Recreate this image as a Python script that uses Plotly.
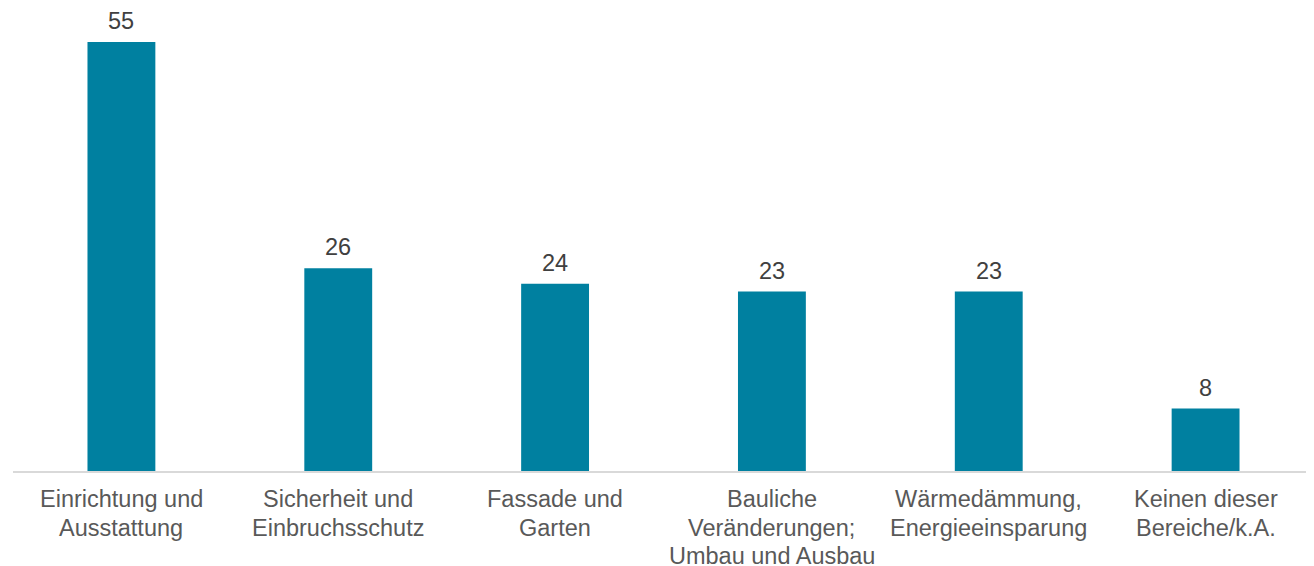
import plotly.graph_objects as go

categories = [
    "Einrichtung und<br>Ausstattung",
    "Sicherheit und<br>Einbruchsschutz",
    "Fassade und<br>Garten",
    "Bauliche<br>Veränderungen;<br>Umbau und Ausbau",
    "Wärmedämmung,<br>Energieeinsparung",
    "Keinen dieser<br>Bereiche/k.A.",
]
values = [55, 26, 24, 23, 23, 8]

FONT = "Liberation Sans, Arial, sans-serif"
FS = 23.5

fig = go.Figure()
fig.add_trace(go.Bar(
    x=categories, y=values,
    marker=dict(color="#0080A0", line=dict(width=0)),
    hoverinfo="y",
))

# value labels above bars
for c, v in zip(categories, values):
    fig.add_annotation(
        x=c, y=v, text=str(v), showarrow=False,
        yanchor="bottom", yshift=6,
        font=dict(family=FONT, size=FS, color="#404040"),
    )

# category labels, one annotation per line for tighter line spacing
LINE_GAP = 28.5
FIRST = 28
for c in categories:
    for i, line in enumerate(c.split("<br>")):
        fig.add_annotation(
            x=c, y=0, text=line, showarrow=False,
            yanchor="middle", xanchor="center",
            yshift=-(FIRST + i * LINE_GAP),
            font=dict(family=FONT, size=FS, color="#595959"),
        )

# page body has an 8px margin, so the figure is sized to fit the window
fig.update_layout(
    width=1306, height=558,
    margin=dict(l=5, r=0, t=0, b=95, autoexpand=False),
    plot_bgcolor="white", paper_bgcolor="white",
    bargap=0.687,
    showlegend=False,
    font=dict(family=FONT, size=FS, color="#595959"),
)
fig.update_xaxes(
    showline=True, linecolor="#D9D9D9", linewidth=1.5,
    ticks="", showgrid=False, automargin=False,
    showticklabels=False,
)
fig.update_yaxes(
    range=[0, 59.36], visible=False, showgrid=False, zeroline=False,
)

fig.write_html("out.html")
